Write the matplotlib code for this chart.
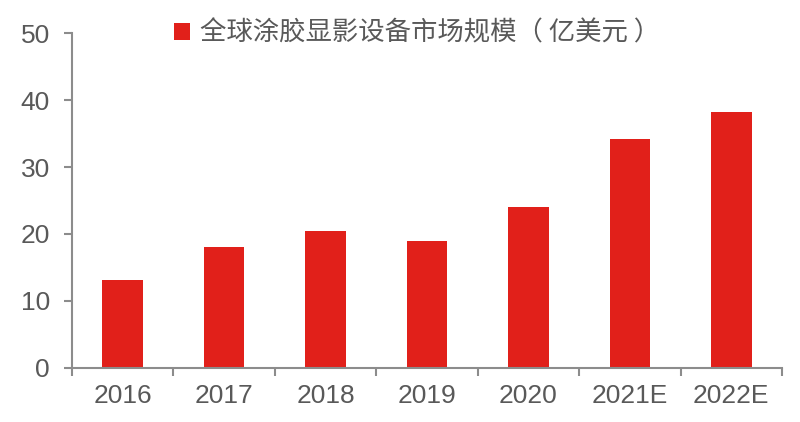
import matplotlib
matplotlib.use("Agg")
import matplotlib.pyplot as plt
from matplotlib.patches import Patch

categories = ["2016", "2017", "2018", "2019", "2020", "2021E", "2022E"]
values = [13.1, 18.1, 20.5, 19.0, 24.0, 34.2, 38.2]
series_name = "全球涂胶显影设备市场规模（ 亿美元 ）"
yticks = [0, 10, 20, 30, 40, 50]

plt.rcParams['font.family'] = ['Liberation Sans', 'Noto Sans CJK SC', 'DejaVu Sans']

bar_color = "#E1201A"
axis_color = "#8C8C8C"
text_color = "#595959"

fig = plt.figure(figsize=(8, 4.22), dpi=100)
ax = fig.add_axes([0.09, 0.1287, 0.8875, 0.7923])

x = range(len(categories))
ax.bar(x, values, width=0.4, color=bar_color, zorder=2)

ax.set_xlim(-0.5, len(categories) - 0.5)
ax.set_ylim(0, 50)
ax.set_yticks(yticks)
ax.set_yticklabels([str(t) for t in yticks])
ax.set_xticks(list(x))
ax.set_xticklabels(categories)

for s in ["top", "right"]:
    ax.spines[s].set_visible(False)
for s in ["left", "bottom"]:
    ax.spines[s].set_color(axis_color)
    ax.spines[s].set_linewidth(1.5)

ax.tick_params(axis='y', length=6, width=1.5, color=axis_color, labelsize=19,
               labelcolor=text_color, pad=10)
ax.tick_params(axis='x', length=0, labelsize=19, labelcolor=text_color, pad=12)
# category boundary ticks on x axis
ax.set_xticks([i - 0.5 for i in range(len(categories) + 1)], minor=True)
ax.tick_params(axis='x', which='minor', length=6, width=1.5, color=axis_color)

handle = Patch(facecolor=bar_color, edgecolor='none', label=series_name)
leg = ax.legend(handles=[handle], loc='center', bbox_to_anchor=(0.486, 1.0),
                bbox_transform=ax.transAxes, frameon=False,
                handlelength=0.6, handleheight=0.6, handletextpad=0.35,
                prop={'family': ['Noto Sans CJK SC', 'DejaVu Sans'], 'size': 19})
for t in leg.get_texts():
    t.set_color(text_color)

fig.savefig("out.png", dpi=100, facecolor="white")
